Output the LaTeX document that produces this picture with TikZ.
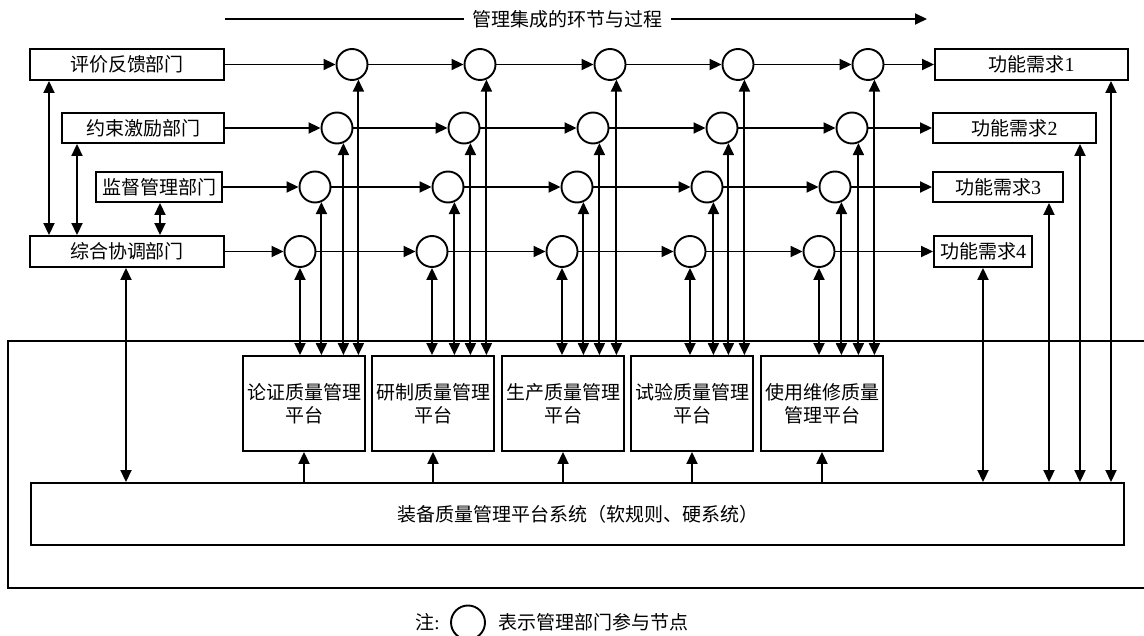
\documentclass[tikz,border=0pt]{standalone}
\usepackage{fontspec}
\setmainfont{Liberation Serif}
\newfontfamily\cjk{Noto Sans CJK SC}
\usetikzlibrary{arrows.meta}
\begin{document}
\begin{tikzpicture}[x=1pt,y=-1pt, line width=1.9pt,
  >={Triangle[length=12pt,width=11pt]},
  box/.style={draw, rectangle, inner sep=0pt, align=center, font=\fontsize{19}{23}\selectfont\cjk},
  nd/.style={draw, circle, minimum size=31pt, inner sep=0pt},
  lbl/.style={font=\fontsize{19}{23}\selectfont\cjk, inner sep=0pt}]
\useasboundingbox (0,0) rectangle (1144,636);

% heading
\node[lbl, inner xsep=8pt, inner ysep=2pt] (T) at (567.5,19) {管理集成的环节与过程};
\coordinate (ts) at (225,19);
\coordinate (te) at (927,19);
\draw (ts) -- (T.west);
\draw[->] (T.east) -- (te);

% left boxes
\node[box, minimum width=194pt, minimum height=31pt] (A1) at (127,64.5) {评价反馈部门};
\node[box, minimum width=162pt, minimum height=30pt] (A2) at (143,128) {约束激励部门};
\node[box, minimum width=126pt, minimum height=30pt] (A3) at (159,187) {监督管理部门};
\node[box, minimum width=194pt, minimum height=31pt] (A4) at (127,251.5) {综合协调部门};

% right boxes
\node[box, minimum width=193pt, minimum height=31pt] (F1) at (1031.5,64.5) {功能需求{\rmfamily\fontsize{20}{23}\selectfont 1}};
\node[box, minimum width=163pt, minimum height=30pt] (F2) at (1014.5,128) {功能需求{\rmfamily\fontsize{20}{23}\selectfont 2}};
\node[box, minimum width=130pt, minimum height=30pt] (F3) at (998,187) {功能需求{\rmfamily\fontsize{20}{23}\selectfont 3}};
\node[box, minimum width=98pt, minimum height=31pt] (F4) at (983,251.5) {功能需求{\rmfamily\fontsize{20}{23}\selectfont 4}};

% circles
\node[nd] (c11) at (352,64.5) {};
\node[nd] (c12) at (480,64.5) {};
\node[nd] (c13) at (610,64.5) {};
\node[nd] (c14) at (738,64.5) {};
\node[nd] (c15) at (868,64.5) {};
\node[nd] (c21) at (337,128) {};
\node[nd] (c22) at (464,128) {};
\node[nd] (c23) at (593,128) {};
\node[nd] (c24) at (722,128) {};
\node[nd] (c25) at (852,128) {};
\node[nd] (c31) at (315,187) {};
\node[nd] (c32) at (448,187) {};
\node[nd] (c33) at (577,187) {};
\node[nd] (c34) at (707,187) {};
\node[nd] (c35) at (835,187) {};
\node[nd] (c41) at (300,251.5) {};
\node[nd] (c42) at (432,251.5) {};
\node[nd] (c43) at (562,251.5) {};
\node[nd] (c44) at (690,251.5) {};
\node[nd] (c45) at (819,251.5) {};

% outer frame
\draw (1150,341) -- (8,341) -- (8,588) -- (1150,588);

% platforms
\node[box, minimum width=122pt, minimum height=95pt] (P1) at (304,403.5) {论证质量管理\\平台};
\node[box, minimum width=122pt, minimum height=95pt] (P2) at (433,403.5) {研制质量管理\\平台};
\node[box, minimum width=122pt, minimum height=95pt] (P3) at (563,403.5) {生产质量管理\\平台};
\node[box, minimum width=122pt, minimum height=95pt] (P4) at (692,403.5) {试验质量管理\\平台};
\node[box, minimum width=122pt, minimum height=95pt] (P5) at (822,403.5) {使用维修质量\\管理平台};

% system box
\node[box, minimum width=1093pt, minimum height=62pt] (S) at (577.5,514) {装备质量管理平台系统（软规则、硬系统）};

% horizontal flow
\foreach \r in {1,2,3,4} {
  \draw[->] (A\r.east) -- (c\r1.west);
  \draw[->] (c\r1.east) -- (c\r2.west);
  \draw[->] (c\r2.east) -- (c\r3.west);
  \draw[->] (c\r3.east) -- (c\r4.west);
  \draw[->] (c\r4.east) -- (c\r5.west);
  \draw[->] (c\r5.east) -- (F\r.west);
}

% circles to platforms
\foreach \k in {1,2,3,4,5} {
  \draw[<->] (c4\k.south) -- (c4\k.south |- P\k.north);
  \foreach \r in {1,2,3} {
    \draw[<->] (c\r\k.-67) -- (c\r\k.-67 |- P\k.north);
  }
  \draw[->] (P\k.south |- S.north) -- (P\k.south);
}

% left vertical links
\coordinate (L1) at (49,0);
\coordinate (L2) at (77,0);
\coordinate (L3) at (160,0);
\coordinate (L4) at (126,0);
\draw[<->] (L1 |- A1.south) -- (L1 |- A4.north);
\draw[<->] (L2 |- A2.south) -- (L2 |- A4.north);
\draw[<->] (L3 |- A3.south) -- (L3 |- A4.north);
\draw[<->] (L4 |- A4.south) -- (L4 |- S.north);

% right vertical links
\coordinate (R1) at (1111,0);
\coordinate (R2) at (1080,0);
\coordinate (R3) at (1049,0);
\coordinate (R4) at (983,0);
\foreach \r in {1,2,3,4} {
  \draw[<->] (R\r |- F\r.south) -- (R\r |- S.north);
}

% note
\node[lbl] (N1) at (427.5,622) {注{\rmfamily :}};
\node[draw, circle, minimum size=34pt, inner sep=0pt] (N2) at (468,622.5) {};
\node[lbl] (N3) at (593,622) {表示管理部门参与节点};
\end{tikzpicture}
\end{document}
